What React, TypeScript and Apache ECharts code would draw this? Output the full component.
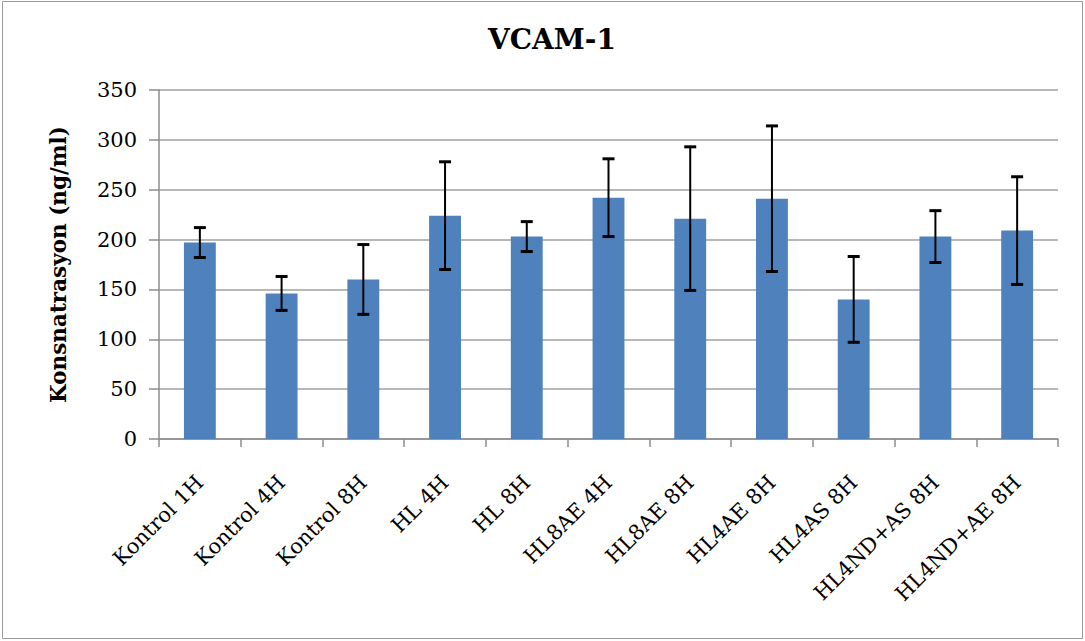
import React, { useEffect, useRef } from "react";
import * as echarts from "echarts";

const categories = [
  "Kontrol 1H",
  "Kontrol 4H",
  "Kontrol 8H",
  "HL 4H",
  "HL 8H",
  "HL8AE 4H",
  "HL8AE 8H",
  "HL4AE 8H",
  "HL4AS 8H",
  "HL4ND+AS 8H",
  "HL4ND+AE 8H",
];
const means = [197, 146, 160, 224, 203, 242, 221, 241, 140, 203, 209];
const errors = [15, 17, 35, 54, 15, 39, 72, 73, 43, 26, 54];
const yTicks = [0, 50, 100, 150, 200, 250, 300, 350];

export default function App() {
  const ref = useRef<HTMLDivElement>(null);
  useEffect(() => {
    if (!ref.current) return;
    const chart = echarts.init(ref.current, undefined, { renderer: "svg" });
    const errData = means.map((m, i) => [i, m - errors[i], m + errors[i]]);
    chart.setOption({
      animation: false,
      backgroundColor: "#ffffff",
      title: {
        text: "VCAM-1",
        left: 547,
        top: 20,
        textAlign: "center",
        textStyle: {
          fontFamily: "DejaVu Serif",
          fontWeight: "bold",
          fontSize: 28,
          color: "#000",
        },
      },
      graphic: [
        {
          type: "rect",
          shape: { x: 2.5, y: 1.5, width: 1080, height: 637 },
          style: { fill: "none", stroke: "#9a9a9a", lineWidth: 1 },
          silent: true,
        },
      ],
      grid: { left: 159, right: 27, top: 90, bottom: 202 },
      xAxis: {
        type: "category",
        data: categories,
        boundaryGap: true,
        axisLine: { lineStyle: { color: "#8c8c8c", width: 1.5 } },
        axisTick: { show: true, length: 8, alignWithLabel: false, lineStyle: { color: "#8c8c8c", width: 1.5 } },
        axisLabel: {
          rotate: 45,
          margin: 40,
          interval: 0,
          fontFamily: "DejaVu Serif",
          fontSize: 21,
          color: "#000",
        },
      },
      yAxis: {
        type: "value",
        min: 0,
        max: 350,
        interval: 50,
        name: "Konsnatrasyon (ng/ml)",
        nameLocation: "middle",
        nameGap: 90,
        nameTextStyle: {
          fontFamily: "DejaVu Serif",
          fontWeight: "bold",
          fontSize: 21.5,
          color: "#000",
        },
        axisLine: { show: true, lineStyle: { color: "#8c8c8c", width: 1.5 } },
        axisTick: { show: true, length: 10, lineStyle: { color: "#8c8c8c", width: 1.5 } },
        splitLine: { lineStyle: { color: "#a0a0a0", width: 1.5 } },
        axisLabel: {
          margin: 22,
          fontFamily: "DejaVu Serif",
          fontSize: 21,
          color: "#000",
          formatter: (v: number) => (yTicks.includes(v) ? String(v) : ""),
        },
      },
      series: [
        {
          type: "bar",
          data: means,
          barWidth: "39%",
          itemStyle: { color: "#4f81bd" },
        },
        {
          type: "custom",
          data: errData,
          z: 10,
          renderItem: (params: any, api: any) => {
            const idx = api.value(0);
            const lo = api.coord([idx, api.value(1)]);
            const hi = api.coord([idx, api.value(2)]);
            const half = 6;
            const style = { stroke: "#000", lineWidth: 2 };
            return {
              type: "group",
              children: [
                { type: "line", shape: { x1: hi[0], y1: hi[1], x2: lo[0], y2: lo[1] }, style },
                { type: "line", shape: { x1: hi[0] - half, y1: hi[1], x2: hi[0] + half, y2: hi[1] }, style: { stroke: "#000", lineWidth: 3 } },
                { type: "line", shape: { x1: lo[0] - half, y1: lo[1], x2: lo[0] + half, y2: lo[1] }, style: { stroke: "#000", lineWidth: 3 } },
              ],
            };
          },
        },
      ],
    });
    return () => chart.dispose();
  }, []);
  return (
    <div
      ref={ref}
      style={{ position: "fixed", left: 0, top: 0, width: 1085, height: 641 }}
    />
  );
}
